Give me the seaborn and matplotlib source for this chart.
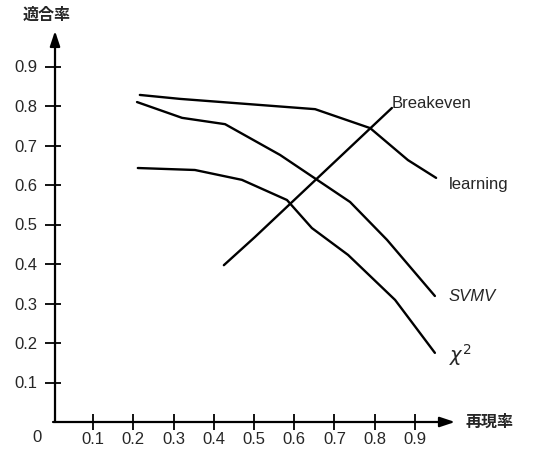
import pandas as pd
import seaborn as sns
import matplotlib.pyplot as plt

# valores
learning_x = [0.216, 0.316, 0.652, 0.789, 0.883, 0.953]
learning_y = [0.828, 0.818, 0.792, 0.744, 0.663, 0.618]

svmv_x = [0.209, 0.321, 0.428, 0.565, 0.739, 0.831, 0.950]
svmv_y = [0.810, 0.770, 0.754, 0.676, 0.557, 0.461, 0.319]

chi_x = [0.211, 0.353, 0.470, 0.582, 0.644, 0.734, 0.851, 0.950]
chi_y = [0.643, 0.638, 0.613, 0.562, 0.491, 0.423, 0.309, 0.175]

breakeven_x = [0.425, 0.502, 0.843]
breakeven_y = [0.397, 0.468, 0.795]

ticks = [0.1, 0.2, 0.3, 0.4, 0.5, 0.6, 0.7, 0.8, 0.9]
tick_labels = ["0.1", "0.2", "0.3", "0.4", "0.5", "0.6", "0.7", "0.8", "0.9"]

df = pd.concat([
    pd.DataFrame({"recall": learning_x, "precision": learning_y, "method": "learning"}),
    pd.DataFrame({"recall": svmv_x, "precision": svmv_y, "method": "SVMV"}),
    pd.DataFrame({"recall": chi_x, "precision": chi_y, "method": "chi2"}),
    pd.DataFrame({"recall": breakeven_x, "precision": breakeven_y, "method": "Breakeven"}),
])

sns.set_style("white")
plt.rcParams['font.family'] = ['Liberation Sans', 'Noto Sans CJK JP', 'DejaVu Sans']

fig = plt.figure(figsize=(5.48, 4.5), dpi=100)
ax = fig.add_axes([53 / 548, 28 / 450, 402 / 548, 395 / 450])

sns.lineplot(data=df, x="recall", y="precision", hue="method", units="method",
             estimator=None, sort=False, palette=["black"] * 4, linewidth=1.7,
             legend=False, ax=ax)

ax.set_xlim(0, 1.0)
ax.set_ylim(0, 1.0)
for s in ax.spines.values():
    s.set_visible(False)

# ejes con flechas
ax.annotate("", xy=(1.0, 0), xytext=(0, 0), xycoords="axes fraction",
            arrowprops=dict(arrowstyle="-|>,head_length=0.9,head_width=0.3",
                            color="black", lw=1.6, shrinkA=0, shrinkB=0))
ax.annotate("", xy=(0.005, 0.99), xytext=(0.005, 0), xycoords="axes fraction",
            arrowprops=dict(arrowstyle="-|>,head_length=0.9,head_width=0.3",
                            color="black", lw=1.6, shrinkA=0, shrinkB=0))

ax.set_xticks(ticks)
ax.set_xticklabels(tick_labels)
ax.set_yticks(ticks)
ax.set_yticklabels(tick_labels)
ax.tick_params(axis="both", direction="inout", length=11, width=1.3,
               labelsize=12, color="black", bottom=True, left=True)
ax.tick_params(axis="x", pad=1.5)
ax.tick_params(axis="y", pad=6)
ax.set_xlabel("")
ax.set_ylabel("")

ax.text(-0.04, -0.04, "0", fontsize=12, ha="center", va="center", clip_on=False)
ax.text(1.025, 0.0, "再現率", fontsize=11.5, fontweight="bold", ha="left", va="center", clip_on=False)
ax.text(-0.015, 1.01, "適合率", fontsize=11.5, fontweight="bold", ha="center", va="bottom", clip_on=False)

ax.text(0.843, 0.787, "Breakeven", fontsize=12, ha="left", va="bottom")
ax.text(0.985, 0.60, "learning", fontsize=12, ha="left", va="center")
ax.text(0.985, 0.318, "SVMV", fontsize=12, ha="left", va="center", style="italic")
ax.text(0.985, 0.17, r"$\chi^2$", fontsize=14, ha="left", va="center")

fig.savefig("out.png", dpi=100)
